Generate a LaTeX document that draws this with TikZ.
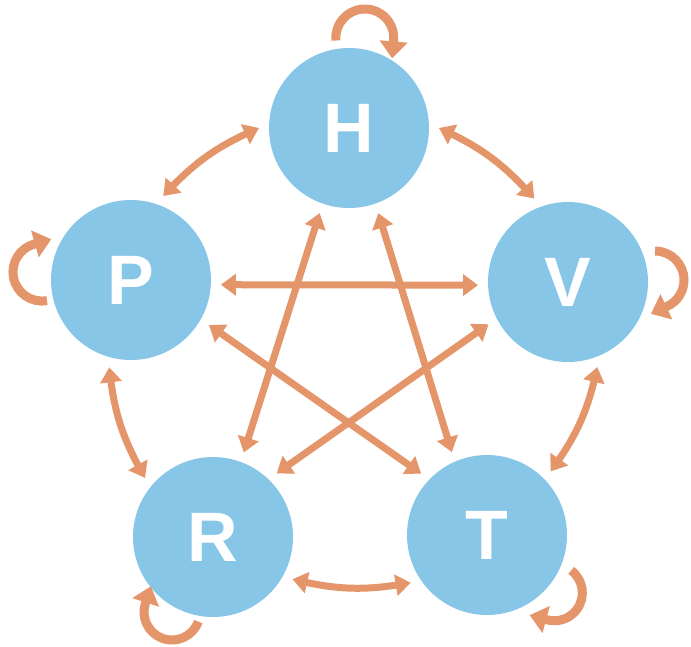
\documentclass[tikz,border=0pt]{standalone}
\usepackage{fontspec}
\setmainfont{Liberation Sans}
\usetikzlibrary{arrows.meta,bending,calc}
\definecolor{nodeblue}{HTML}{88C6E8}
\definecolor{arroworange}{HTML}{E4956A}
\begin{document}
\begin{tikzpicture}[x=1pt,y=1pt,
  state/.style={circle, fill=nodeblue, minimum size=160pt, inner sep=0pt, outer sep=10pt,
    text=white, font=\fontsize{70}{70}\selectfont\bfseries},
  link/.style={draw=arroworange, line width=7pt,
    {Triangle[width=21pt,length=15pt]}-{Triangle[width=21pt,length=15pt]}},
  selfloop/.style={draw=arroworange, line width=9pt, -{Triangle[width=27pt,length=17pt]}}]
\useasboundingbox (0,0) rectangle (691,-646);
% nodes
\node[state] (H) at (349,-128) {H};
\node[state] (P) at (131,-280) {P};
\node[state] (V) at (568,-282) {V};
\node[state] (R) at (213,-537) {R};
\node[state] (T) at (487,-535) {T};
% outer ring (curved)
\draw[link] (P.69) to[bend left=12] (H.180);
\draw[link] (H.0) to[bend left=12] (V.112);
\draw[link] (V.-71) to[bend left=12] (T.45);
\draw[link] (T.212) to[bend left=12] (R.-28);
\draw[link] (R.139) to[bend left=12] (P.256);
% star (straight)
\draw[link] (P.-3) -- (V.182);
\draw[link] (H.251) -- (R.70);
\draw[link] (H.289) -- (T.113);
\draw[link] (P.-30) -- (T.137);
\draw[link] (V.208) -- (R.45);
% self loops
\draw[selfloop] ($(H)+(-13.1,87.5)$) arc[start angle=185,end angle=-5,radius=29]
  -- ++({18*sin(-5)},{-18*cos(-5)});
\draw[selfloop] ($(V)+(87,31)$) arc[start angle=90,end angle=-65,radius=29]
  -- ++({18*sin(-65)},{-18*cos(-65)});
\draw[selfloop] ($(P)+(-84,-20.6)$) arc[start angle=-80,end angle=-254,radius=29]
  -- ++({18*sin(-254)},{-18*cos(-254)});
\draw[selfloop] ($(R)+(-14.7,-84.6)$) arc[start angle=-20,end angle=-198,radius=28]
  -- ++({18*sin(-198)},{-18*cos(-198)});
\draw[selfloop] ($(T)+(84.2,-35.4)$) arc[start angle=53,end angle=-105,radius=28]
  -- ++({18*sin(-105)},{-18*cos(-105)});
\end{tikzpicture}
\end{document}
